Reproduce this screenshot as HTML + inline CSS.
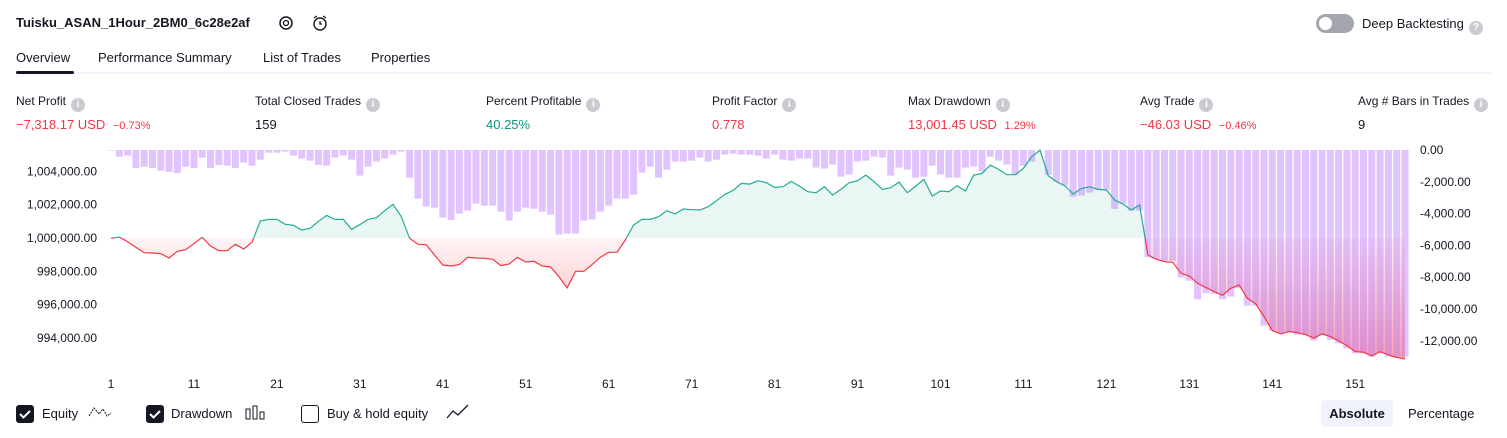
<!DOCTYPE html>
<html><head><meta charset="utf-8">
<style>
*{box-sizing:border-box;margin:0;padding:0}
body{width:1507px;height:438px;background:#fff;font-family:"Liberation Sans",sans-serif;color:#131722;position:relative;overflow:hidden;font-size:13px}
.abs{position:absolute;white-space:nowrap}
.info{display:inline-block;width:14px;height:14px;border-radius:50%;background:#c9cbd1;color:#fff;font-size:10px;text-align:center;line-height:14px;font-weight:bold;vertical-align:-2px;margin-left:5px}
.lbl{font-size:12px;color:#131722}
.val{font-size:13px}
.red{color:#f23645}.green{color:#089981}
.cb{position:absolute;width:18px;height:18px;border-radius:3px}
</style></head><body>
<div class="abs" style="left:16px;top:15px;font-weight:bold;font-size:13px">Tuisku_ASAN_1Hour_2BM0_6c28e2af</div>
<svg class="abs" style="left:277px;top:14px" width="18" height="18" viewBox="0 0 18 18"><circle cx="9" cy="9" r="6" fill="none" stroke="#131722" stroke-width="1.5"/><circle cx="9" cy="9" r="2.5" fill="none" stroke="#131722" stroke-width="1.3"/></svg>
<svg class="abs" style="left:311px;top:14px" width="18" height="18" viewBox="0 0 18 18"><circle cx="9" cy="10" r="6" fill="none" stroke="#131722" stroke-width="1.4"/><path d="M9 7v3h2M3 4l3-2M15 4l-3-2" stroke="#131722" stroke-width="1.3" fill="none"/></svg>
<div class="abs" style="left:1316px;top:14px;width:38px;height:19px;border-radius:10px;background:#a3a6af"><div style="position:absolute;left:3px;top:3px;width:13px;height:13px;border-radius:50%;background:#fff"></div></div>
<div class="abs" style="left:1362px;top:16px;font-size:13px">Deep Backtesting<span class="info">?</span></div>
<div class="abs" style="left:16px;top:50px;font-size:13px">Overview</div>
<div class="abs" style="left:98px;top:50px;font-size:13px">Performance Summary</div>
<div class="abs" style="left:263px;top:50px;font-size:13px">List of Trades</div>
<div class="abs" style="left:371px;top:50px;font-size:13px">Properties</div>
<div class="abs" style="left:16px;top:72px;width:1475px;height:2px;background:#f0f3fa"></div>
<div class="abs" style="left:16px;top:71px;width:58px;height:3px;background:#131722;border-radius:2px"></div>

<div class="abs" style="left:16px;top:94px"><div class="lbl">Net Profit<span class="info">i</span></div><div class="val red" style="margin-top:5px">−7,318.17 USD <span style="font-size:11px;margin-left:4px">−0.73%</span></div></div>
<div class="abs" style="left:255px;top:94px"><div class="lbl">Total Closed Trades<span class="info">i</span></div><div class="val" style="margin-top:5px">159</div></div>
<div class="abs" style="left:486px;top:94px"><div class="lbl">Percent Profitable<span class="info">i</span></div><div class="val green" style="margin-top:5px">40.25%</div></div>
<div class="abs" style="left:712px;top:94px"><div class="lbl">Profit Factor<span class="info">i</span></div><div class="val red" style="margin-top:5px">0.778</div></div>
<div class="abs" style="left:908px;top:94px"><div class="lbl">Max Drawdown<span class="info">i</span></div><div class="val red" style="margin-top:5px">13,001.45 USD <span style="font-size:11px;margin-left:4px">1.29%</span></div></div>
<div class="abs" style="left:1140px;top:94px"><div class="lbl">Avg Trade<span class="info">i</span></div><div class="val red" style="margin-top:5px">−46.03 USD <span style="font-size:11px;margin-left:4px">−0.46%</span></div></div>
<div class="abs" style="left:1358px;top:94px"><div class="lbl">Avg # Bars in Trades<span class="info">i</span></div><div class="val" style="margin-top:5px">9</div></div>

<svg id="chart" class="abs" style="left:0;top:0" width="1507" height="438"></svg>

<div class="cb" style="left:16px;top:405px;background:#131722"><svg width="18" height="18"><path d="M4 9l3.5 3.5L14 6" stroke="#fff" stroke-width="2" fill="none"/></svg></div>
<div class="abs" style="left:42px;top:406px">Equity</div>
<svg class="abs" style="left:88px;top:404px" width="24" height="16"><path d="M1 12l5-8 5 6 4-5 4 7 4-3" stroke="#131722" fill="none" stroke-width="1" stroke-dasharray="2 1"/></svg>
<div class="cb" style="left:146px;top:405px;background:#131722"><svg width="18" height="18"><path d="M4 9l3.5 3.5L14 6" stroke="#fff" stroke-width="2" fill="none"/></svg></div>
<div class="abs" style="left:171px;top:406px">Drawdown</div>
<svg class="abs" style="left:245px;top:405px" width="22" height="16"><rect x="1" y="4" width="4" height="10" fill="none" stroke="#131722"/><rect x="8" y="1" width="4" height="13" fill="none" stroke="#131722"/><rect x="15" y="7" width="4" height="7" fill="none" stroke="#131722"/></svg>
<div class="cb" style="left:301px;top:405px;border:1px solid #131722"></div>
<div class="abs" style="left:327px;top:406px">Buy &amp; hold equity</div>
<svg class="abs" style="left:446px;top:404px" width="24" height="16"><path d="M1 14l6-7 5 4 10-10" stroke="#131722" fill="none" stroke-width="1.3"/></svg>
<div class="abs" style="left:1321px;top:400px;width:72px;height:27px;background:#f0f3fa;border-radius:4px;text-align:center;line-height:27px;font-weight:bold">Absolute</div>
<div class="abs" style="left:1408px;top:406px">Percentage</div>

<script>
const equity=[999980,1000060,999780,999440,999120,999100,999060,998800,999200,999300,999660,1000040,999520,999240,999240,999620,999340,999740,1001020,1001120,1001120,1000820,1000760,1000480,1000580,1001000,1001360,1001120,1001120,1000520,1000800,1001120,1001220,1001640,1002020,1001280,999980,999620,999600,998980,998380,998320,998400,998840,998800,998780,998720,998340,998440,998840,998560,998600,998320,998260,997680,997000,998000,998000,998400,998840,999140,999140,999880,1000780,1001120,1001120,1001280,1001640,1001440,1001740,1001700,1001680,1001880,1002240,1002620,1002860,1003280,1003240,1003440,1003320,1003040,1003080,1003400,1003120,1002780,1002720,1003080,1002580,1002920,1003320,1003440,1003780,1003380,1002920,1003020,1003360,1002720,1003120,1003520,1002520,1002820,1002780,1003140,1002820,1003780,1003880,1004380,1004120,1003800,1003800,1004180,1004880,1005280,1003740,1003380,1003140,1002640,1002980,1003080,1002920,1002880,1002280,1002040,1001680,1001980,998980,998720,998580,998540,997880,997720,997280,997020,996780,996560,996980,997180,996380,996040,995280,994440,994240,994380,994320,994200,993980,994240,994080,993820,993540,993180,993140,992920,993180,992980,992820,992740];
const drawdown=[-40,-420,-360,-1130,-1050,-1130,-1300,-1380,-1450,-1050,-1130,-480,-1130,-940,-990,-1130,-800,-990,-610,-170,-170,-100,-360,-540,-670,-940,-990,-480,-360,-610,-1610,-1050,-730,-540,-290,-100,-1740,-3060,-3560,-3630,-4250,-4400,-4000,-3810,-3370,-3500,-3500,-3880,-4440,-3880,-3630,-3690,-3880,-4070,-5320,-5260,-5260,-4440,-4380,-3880,-3500,-3060,-3060,-2810,-1430,-1050,-1740,-1240,-730,-730,-670,-480,-730,-610,-290,-230,-290,-290,-360,-540,-290,-610,-670,-540,-540,-1110,-1170,-920,-1680,-1550,-730,-670,-420,-480,-1610,-1110,-1240,-1740,-1680,-990,-1550,-1740,-1740,-1110,-1050,-1360,-420,-670,-920,-1550,-990,-730,0,-1570,-1990,-2240,-2930,-2870,-2680,-2520,-2520,-3710,-3400,-3810,-3810,-6750,-6870,-6960,-6960,-8010,-8220,-9390,-9010,-9050,-9390,-9220,-8700,-9790,-9790,-11050,-11360,-11490,-11420,-11630,-11630,-11990,-11630,-11950,-12160,-12470,-12790,-12790,-13000,-12790,-13000,-13000,-13000];
const leftTicks=[994000,996000,998000,1000000,1002000,1004000];
const rightTicks=[0,-2000,-4000,-6000,-8000,-10000,-12000];
const xTicks=[1,11,21,31,41,51,61,71,81,91,101,111,121,131,141,151];

const NS="http://www.w3.org/2000/svg";
const svg=document.getElementById('chart');
const N=equity.length;
const X0=111,X1=1405,BASE=1000000;
function xS(i){return X0+(i-1)*(X1-X0)/(N-1);}
function eqY(v){return 238-(v-BASE)/2000*33.3;}
function ddY(v){return 150-v/2000*31.8;}
function mk(tag,attrs){const e=document.createElementNS(NS,tag);for(const k in attrs)e.setAttribute(k,attrs[k]);svg.appendChild(e);return e;}
const fmt=v=>(v<0?'-':'')+Math.abs(v).toLocaleString('en-US',{minimumFractionDigits:2,maximumFractionDigits:2});

const defs=mk('defs',{});
defs.innerHTML='<linearGradient id="gG" x1="0" y1="0" x2="0" y2="1" gradientUnits="userSpaceOnUse" y1="150" y2="238" x1="0" x2="0"><stop offset="0" stop-color="#22ab94" stop-opacity="0.32"/><stop offset="1" stop-color="#22ab94" stop-opacity="0.1"/></linearGradient>'+
'<linearGradient id="gR" gradientUnits="userSpaceOnUse" x1="0" x2="0" y1="238" y2="360"><stop offset="0" stop-color="#f23645" stop-opacity="0.05"/><stop offset="1" stop-color="#f23645" stop-opacity="0.45"/></linearGradient>'+
'<clipPath id="cA"><rect x="0" y="0" width="1507" height="238"/></clipPath><clipPath id="cB"><rect x="0" y="238" width="1507" height="200"/></clipPath>';

// axis labels
leftTicks.forEach(t=>{const e=mk('text',{x:97,y:eqY(t)+4,'text-anchor':'end','font-size':12,fill:'#131722','font-family':'Liberation Sans'});e.textContent=fmt(t);
});
rightTicks.forEach(t=>{const e=mk('text',{x:1420,y:ddY(t)+4,'font-size':12,fill:'#131722','font-family':'Liberation Sans'});e.textContent=fmt(t);
});
xTicks.forEach(t=>{const e=mk('text',{x:xS(t),y:388,'text-anchor':'middle','font-size':12,fill:'#131722','font-family':'Liberation Sans'});e.textContent=t;
});

// area
let pts=equity.map((v,k)=>xS(k+1).toFixed(1)+','+eqY(v).toFixed(1));
const areaD='M'+xS(1)+','+eqY(BASE)+' L'+pts.join(' L')+' L'+xS(N)+','+eqY(BASE)+'Z';
const a1=mk('path',{d:areaD,fill:'url(#gG)','clip-path':'url(#cA)'});

const a2=mk('path',{d:areaD,fill:'url(#gR)','clip-path':'url(#cB)'});


// bars
const bw=(X1-X0)/(N-1)-1.3;
drawdown.forEach((v,k)=>{const y=ddY(v);const r=mk('rect',{x:(xS(k+1)-bw/2).toFixed(1),y:150,width:bw.toFixed(1),height:Math.max(0,y-150).toFixed(1),fill:'rgba(178,102,255,0.39)'});
});

// lines
const lineD='M'+pts.join(' L');
const l1=mk('path',{d:lineD,fill:'none',stroke:'#22ab94','stroke-width':1.2,'clip-path':'url(#cA)'});

const l2=mk('path',{d:lineD,fill:'none',stroke:'#f23645','stroke-width':1.2,'clip-path':'url(#cB)'});

</script>
</body></html>
